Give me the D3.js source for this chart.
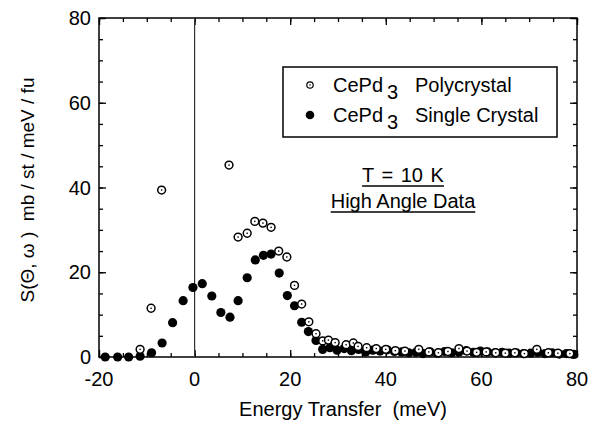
<!DOCTYPE html>
<html><head><meta charset="utf-8">
<script src="https://cdn.jsdelivr.net/npm/d3@7/dist/d3.min.js"></script>
<style>body{margin:0;background:#fff}svg{display:block}text{font-family:"Liberation Sans",Arial,sans-serif;fill:#000}</style>
</head><body><svg id="c" width="595" height="423"></svg>
<script>
const singleE = [-18.7,-16.1,-13.8,-11.4,-9.0,-6.8,-4.6,-2.4,-0.35,1.6,3.6,5.5,7.4,9.1,11.0,12.7,14.4,16.0,17.7,19.4,20.9,22.4,23.8,25.4,26.8,28.3,29.8,31.3,32.8,34.3,35.8,37.3,38.8,40.3,41.8,43.3,44.8,46.3,47.8,49.3,50.8,52.3,53.8,55.3,56.8,58.3,59.8,61.3,62.8,64.3,65.8,67.3,68.8,70.3,71.8,73.3,74.8,76.3,77.8,79.3];
const singleV = [0,0,0,0.2,1.0,3.3,8.1,13.3,16.4,17.3,14.4,10.5,9.4,13.3,18.7,22.9,24.0,24.3,19.8,14.5,12.1,8.2,6.0,3.9,1.8,2.2,1.6,2.0,1.5,1.8,1.2,1.6,1.4,1.7,1.3,1.2,1.0,1.1,0.8,1.2,0.9,1.3,1.0,1.2,1.5,1.1,1.4,1.2,1.0,1.1,0.9,1.0,0.8,0.9,1.1,0.8,1.0,0.7,0.8,0.6];
const polyE = [-11.4,-9.1,-6.9,7.2,9.1,11.0,12.6,14.3,16.0,17.6,19.3,20.9,22.4,23.9,25.4,26.8,28.0,29.4,31.7,33.2,34.2,36,38,40,42,44,46.9,49,51,53,55.3,57,59,61,63,65,67,69,71.6,74,76,78.5];
const polyV = [1.8,11.5,39.4,45.3,28.3,29.2,32.0,31.6,30.6,25.0,23.6,16.9,12.5,8.3,5.5,3.8,4.0,3.4,2.9,3.3,2.5,2.2,2.0,1.8,1.5,1.4,1.8,1.2,1.0,1.3,2.0,1.4,1.1,1.2,1.0,0.9,1.0,0.8,1.8,1.0,0.9,0.8];
const xTicks = [-20,0,20,40,60,80];
const yTicks = [0,20,40,60,80];
const legendLabels = ["Polycrystal","Single Crystal"];

const svg = d3.select("#c");
const L=99, R=577, T=18, B=357;
const x = d3.scaleLinear().domain([-20,80]).range([L,R]);
const y = d3.scaleLinear().domain([0,80]).range([B,T]);
const minorX = d3.range(-20,81,5), minorY = d3.range(0,81,5);

// frame
svg.append("rect").attr("x",L).attr("y",T).attr("width",R-L).attr("height",B-T)
  .attr("fill","none").attr("stroke","#000").attr("stroke-width",1.5);

function ticks(axisGen, tr, vals, len){
  const g = svg.append("g").attr("transform",tr)
   .call(axisGen.tickValues(vals).tickSize(-len).tickFormat(""));
  g.select(".domain").remove();
  g.selectAll("line").attr("stroke","#000").attr("stroke-width",1.3);
}
ticks(d3.axisBottom(x), `translate(0,${B})`, xTicks, 7);
ticks(d3.axisBottom(x), `translate(0,${B})`, minorX, 4);
ticks(d3.axisTop(x), `translate(0,${T})`, xTicks, 7);
ticks(d3.axisTop(x), `translate(0,${T})`, minorX, 4);
ticks(d3.axisLeft(y), `translate(${L},0)`, yTicks, 7);
ticks(d3.axisLeft(y), `translate(${L},0)`, minorY, 4);
ticks(d3.axisRight(y), `translate(${R},0)`, yTicks, 7);
ticks(d3.axisRight(y), `translate(${R},0)`, minorY, 4);

// tick labels
svg.selectAll(".xl").data(xTicks).join("text").attr("x",d=>x(d)).attr("y",386)
  .attr("text-anchor","middle").attr("font-size",20).text(d=>d);
svg.selectAll(".yl").data(yTicks).join("text").attr("x",L-8).attr("y",d=>y(d)+7)
  .attr("text-anchor","end").attr("font-size",20).text(d=>d);

// axis titles
svg.append("text").attr("x",343).attr("y",416).attr("text-anchor","middle").attr("font-size",20)
  .attr("xml:space","preserve").text("Energy Transfer  (meV)");
svg.append("text").attr("transform","translate(34,190) rotate(-90)").attr("text-anchor","middle")
  .attr("font-size",19).attr("xml:space","preserve").text("S(\u0398, \u03C9 )  mb / st / meV / fu");

// zero line
svg.append("line").attr("x1",x(0)).attr("x2",x(0)).attr("y1",T).attr("y2",B)
  .attr("stroke","#333").attr("stroke-width",1.2);

// data
const single = singleE.map((e,i)=>({e,v:singleV[i]}));
const poly = polyE.map((e,i)=>({e,v:polyV[i]}));
svg.append("g").selectAll("circle").data(single).join("circle")
  .attr("cx",d=>x(d.e)).attr("cy",d=>y(d.v)).attr("r",4.6).attr("fill","#000");
const pg = svg.append("g");
pg.selectAll("circle").data(poly).join("circle")
  .attr("cx",d=>x(d.e)).attr("cy",d=>y(d.v)).attr("r",3.9).attr("fill","#fff")
  .attr("stroke","#000").attr("stroke-width",1.5);
pg.selectAll("rect").data(poly).join("rect")
  .attr("x",d=>x(d.e)-0.7).attr("y",d=>y(d.v)-0.7).attr("width",1.4).attr("height",1.4).attr("fill","#000");

// legend
svg.append("rect").attr("x",283).attr("y",67).attr("width",274).attr("height",70)
  .attr("fill","#fff").attr("stroke","#000").attr("stroke-width",1.5);
svg.append("circle").attr("cx",310).attr("cy",85).attr("r",3.2).attr("fill","#fff").attr("stroke","#000").attr("stroke-width",1.2);
svg.append("circle").attr("cx",310).attr("cy",85).attr("r",0.8).attr("fill","#000");
svg.append("circle").attr("cx",310).attr("cy",115).attr("r",4.3).attr("fill","#000");
legendLabels.forEach((lab,i)=>{
  const yy = 92 + i*30;
  const t = svg.append("text").attr("x",333).attr("y",yy).attr("font-size",20);
  t.append("tspan").text("CePd");
  t.append("tspan").attr("dx",4).attr("dy",7).text("3");
  svg.append("text").attr("x",415).attr("y",yy).attr("font-size",20).text(lab);
});

// annotations
[["T = 10 K",182,2],["High Angle Data",208,0]].forEach(([s,yy,ws])=>{
  const t = svg.append("text").attr("x",403).attr("y",yy).attr("text-anchor","middle")
    .attr("font-size",20).attr("word-spacing",ws).text(s);
  const w = t.node().getComputedTextLength();
  svg.append("line").attr("x1",403-w/2).attr("x2",403+w/2).attr("y1",yy+4).attr("y2",yy+4)
    .attr("stroke","#000").attr("stroke-width",1.3);
});
</script></body></html>
